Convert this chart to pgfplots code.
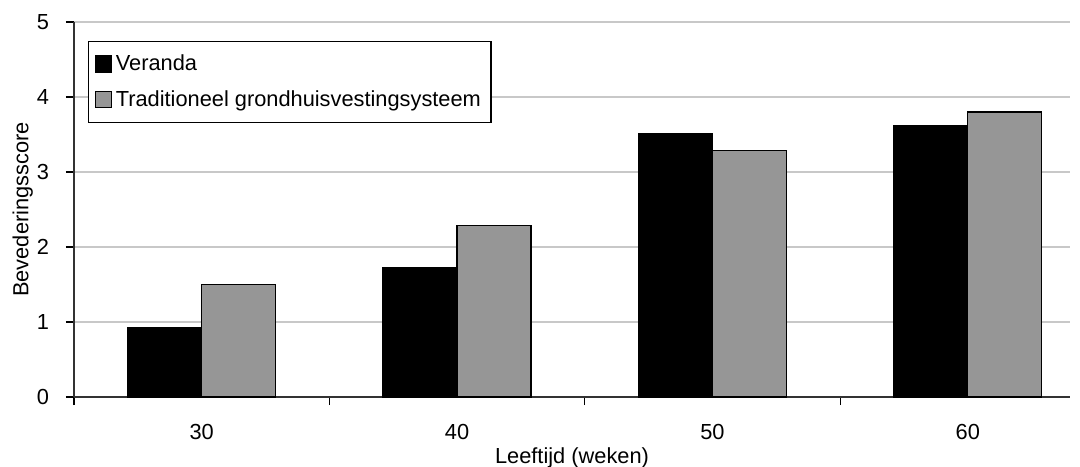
\documentclass[border=0pt]{standalone}
\usepackage{pgfplots}
\pgfplotsset{compat=1.18}
\usepackage{fontspec}
\setmainfont{Liberation Sans}
\definecolor{bargray}{RGB}{150,150,150}
\definecolor{gridgray}{RGB}{200,200,200}
\begin{document}
\begin{tikzpicture}
\begin{axis}[
  name=ax,
  scale only axis,
  width=498pt, height=187.5pt,
  xmin=-0.5, xmax=3.4,
  ymin=0, ymax=5,
  ytick={0,1,2,3,4,5},
  xtick={0,1,2,3},
  xticklabels={30,40,50,60},
  minor xtick={-0.5,0.5,1.5,2.5},
  major x tick style={draw=none},
  tick align=outside,
  tick style={black, line width=0.6pt},
  major tick length=4pt,
  minor tick length=4pt,
  axis x line*=bottom,
  axis y line*=left,
  axis line style={-, line width=0.7pt, black!80},
  ymajorgrids,
  grid style={gridgray, line width=0.6pt},
  ybar=0pt,
  bar width=37pt,
  font=\fontsize{10.9}{12.5}\selectfont,
  tick label style={font=\fontsize{10.9}{12.5}\selectfont},
  /pgf/number format/assume math mode=true,
  ylabel={Bevederingsscore},
  xlabel={Leeftijd (weken)},
  ylabel style={at={(axis description cs:0,0.5)}, anchor=south, yshift=17pt},
  xlabel style={yshift=3pt},
  xticklabel style={yshift=-6pt},
  yticklabel style={xshift=-5pt},
  legend style={at={(axis description cs:0,1)}, anchor=north west,
    xshift=7pt, yshift=-9.5pt, draw=black, line width=0.6pt,
    font=\fontsize{10.9}{12.5}\selectfont, row sep=4.5pt,
    inner xsep=3pt, inner ysep=4.5pt},
  legend cell align=left,
  legend image code/.code={\draw[#1, line width=0.6pt] (0pt,-4pt) rectangle (8pt,4pt);},
]
\addplot[fill=black, draw=black, line width=0.6pt] coordinates {(0,0.92) (1,1.72) (2,3.51) (3,3.62)};
\addplot[fill=bargray, draw=black, line width=0.6pt] coordinates {(0,1.50) (1,2.29) (2,3.29) (3,3.80)};
\legend{Veranda, Traditioneel grondhuisvestingsysteem}
\end{axis}
\pgfresetboundingbox
\path (ax.south west) ++(-37pt,-34.5pt) rectangle ++(540pt,233pt);
\end{tikzpicture}
\end{document}
